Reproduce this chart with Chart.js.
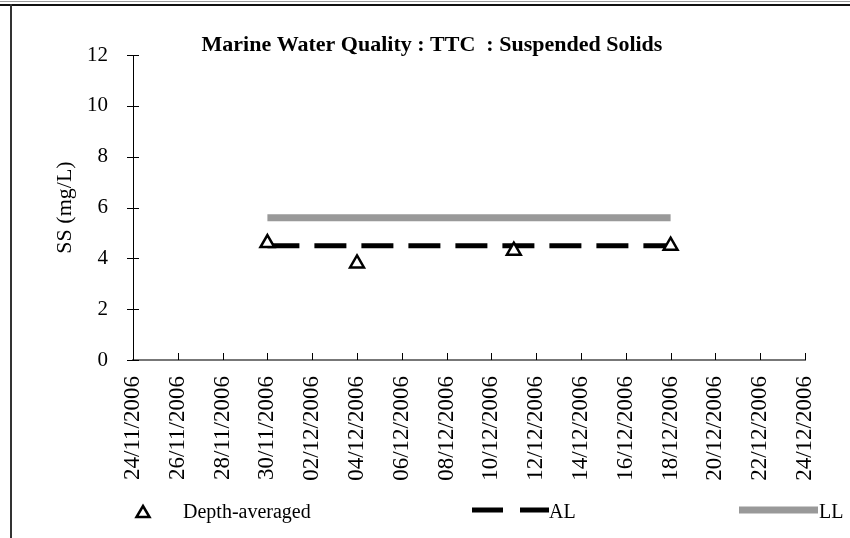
<!DOCTYPE html>
<html>
<head>
<meta charset="utf-8">
<script src="https://cdn.jsdelivr.net/npm/chart.js@4.4.0/dist/chart.umd.min.js"></script>
<style>
  html, body { margin: 0; padding: 0; background: #fff; }
  .wrap { position: relative; width: 850px; height: 538px; }
  .frame-top1 { position: absolute; left: 0; top: 1px; width: 850px; height: 1px; background: #9a9a9a; }
  .frame-top2 { position: absolute; left: 0; top: 4px; width: 850px; height: 2px; background: #111; }
  .frame-left { position: absolute; left: 10px; top: 4px; width: 2px; height: 534px; background: #333; }
</style>
</head>
<body>
<div class="wrap">
  <canvas id="chart" width="850" height="538"></canvas>
  <div class="frame-top1"></div>
  <div class="frame-top2"></div>
  <div class="frame-left"></div>
</div>
<script>
// chart data
const startDate = '24/11/2006';
const sampleDates = ['30/11/2006', '04/12/2006', '11/12/2006', '18/12/2006'];
const depthAveraged = [4.6, 3.8, 4.3, 4.5];
const limitDates = ['30/11/2006', '18/12/2006'];
const actionLevel = [4.5, 4.5];
const limitLevel = [5.6, 5.6];
const yTicks = [0, 2, 4, 6, 8, 10, 12];

const FONT = '"Liberation Serif", "Times New Roman", serif';

function parseDate(s) {
    const p = s.split('/');
    return Date.UTC(+p[2], +p[1] - 1, +p[0]);
}
const base = parseDate(startDate);
function toDay(s) {
    return Math.round((parseDate(s) - base) / 86400000);
}
function fmtDay(v) {
    const d = new Date(base + v * 86400000);
    const dd = String(d.getUTCDate()).padStart(2, '0');
    const mm = String(d.getUTCMonth() + 1).padStart(2, '0');
    return dd + '/' + mm + '/' + d.getUTCFullYear();
}

const pts = (dates, vals) => dates.map((d, i) => ({ x: toDay(d), y: vals[i] }));

// tick marks: y crosses the axis, x points up into the plot
const tickMarks = {
    id: 'tickMarks',
    afterDraw(chart) {
        const ctx = chart.ctx;
        const xs = chart.scales.x;
        const ys = chart.scales.y;
        ctx.save();
        ctx.strokeStyle = '#000';
        ctx.lineWidth = 1;
        ctx.beginPath();
        yTicks.forEach(v => {
            const y = Math.round(ys.getPixelForValue(v)) + 0.5;
            ctx.moveTo(xs.left - 6, y);
            ctx.lineTo(xs.left + 6, y);
        });
        xs.ticks.forEach(t => {
            const x = Math.round(xs.getPixelForValue(t.value)) + 0.5;
            ctx.moveTo(x, ys.bottom);
            ctx.lineTo(x, ys.bottom - 7);
        });
        ctx.stroke();
        ctx.restore();
    }
};

// title + legend drawn at the spots used in the original sheet
const titleLegend = {
    id: 'titleLegend',
    afterDraw(chart) {
        const ctx = chart.ctx;
        const ds = chart.data.datasets;
        ctx.save();
        ctx.fillStyle = '#000';
        ctx.font = 'bold 22px ' + FONT;
        ctx.textAlign = 'center';
        ctx.textBaseline = 'middle';
        ctx.fillText('Marine Water Quality : TTC  : Suspended Solids', 432, 45);

        const ly = 512;
        ctx.font = '20px ' + FONT;
        ctx.textAlign = 'left';
        // depth-averaged marker
        ctx.beginPath();
        ctx.moveTo(143, ly - 6);
        ctx.lineTo(149.5, ly + 5);
        ctx.lineTo(136.5, ly + 5);
        ctx.closePath();
        ctx.fillStyle = '#fff';
        ctx.fill();
        ctx.lineWidth = 2.5;
        ctx.strokeStyle = '#000';
        ctx.stroke();
        ctx.fillStyle = '#000';
        ctx.fillText(ds[0].label, 183, ly + 1);
        // AL
        ctx.beginPath();
        ctx.setLineDash([31, 17]);
        ctx.lineWidth = ds[1].borderWidth;
        ctx.strokeStyle = ds[1].borderColor;
        ctx.moveTo(472, ly - 2);
        ctx.lineTo(549, ly - 2);
        ctx.stroke();
        ctx.setLineDash([]);
        ctx.fillText(ds[1].label, 549, ly + 1);
        // LL
        ctx.beginPath();
        ctx.lineWidth = ds[2].borderWidth;
        ctx.strokeStyle = ds[2].borderColor;
        ctx.moveTo(739, ly - 2);
        ctx.lineTo(818, ly - 2);
        ctx.stroke();
        ctx.fillText(ds[2].label, 819, ly + 1);
        ctx.restore();
    }
};

new Chart(document.getElementById('chart'), {
    type: 'scatter',
    data: {
        datasets: [
            {
                label: 'Depth-averaged',
                data: pts(sampleDates, depthAveraged),
                pointStyle: 'triangle',
                pointRadius: 8,
                pointBorderWidth: 2.5,
                pointBorderColor: '#000',
                pointBackgroundColor: '#fff',
                showLine: false,
                order: 0
            },
            {
                label: 'AL',
                data: pts(limitDates, actionLevel),
                showLine: true,
                borderColor: '#000',
                borderWidth: 5,
                borderDash: [32, 15],
                pointRadius: 0,
                order: 1
            },
            {
                label: 'LL',
                data: pts(limitDates, limitLevel),
                showLine: true,
                borderColor: '#999999',
                borderWidth: 7,
                pointRadius: 0,
                order: 2
            }
        ]
    },
    options: {
        responsive: false,
        animation: false,
        layout: { padding: { top: 55, right: 45, left: 0, bottom: 0 } },
        plugins: {
            legend: { display: false },
            title: { display: false },
            tooltip: { enabled: false }
        },
        scales: {
            x: {
                type: 'linear',
                min: 0,
                max: 30,
                afterFit: (s) => { s.height = 178; },
                border: { display: true, color: '#777', width: 2 },
                grid: { display: false, drawTicks: false },
                ticks: {
                    stepSize: 2,
                    autoSkip: false,
                    minRotation: 90,
                    maxRotation: 90,
                    padding: 16,
                    color: '#000',
                    font: { family: FONT, size: 23 },
                    callback: (v) => fmtDay(v)
                }
            },
            y: {
                min: 0,
                max: 12,
                afterFit: (s) => { s.width = 133; },
                border: { display: true, color: '#000', width: 1 },
                grid: { display: false, drawTicks: false },
                ticks: {
                    stepSize: 2,
                    padding: 25,
                    color: '#000',
                    font: { family: FONT, size: 21 }
                },
                title: {
                    display: true,
                    text: 'SS (mg/L)',
                    color: '#000',
                    font: { family: FONT, size: 22 },
                    padding: { top: 52, bottom: 0 }
                }
            }
        }
    },
    plugins: [tickMarks, titleLegend]
});
</script>
</body>
</html>
